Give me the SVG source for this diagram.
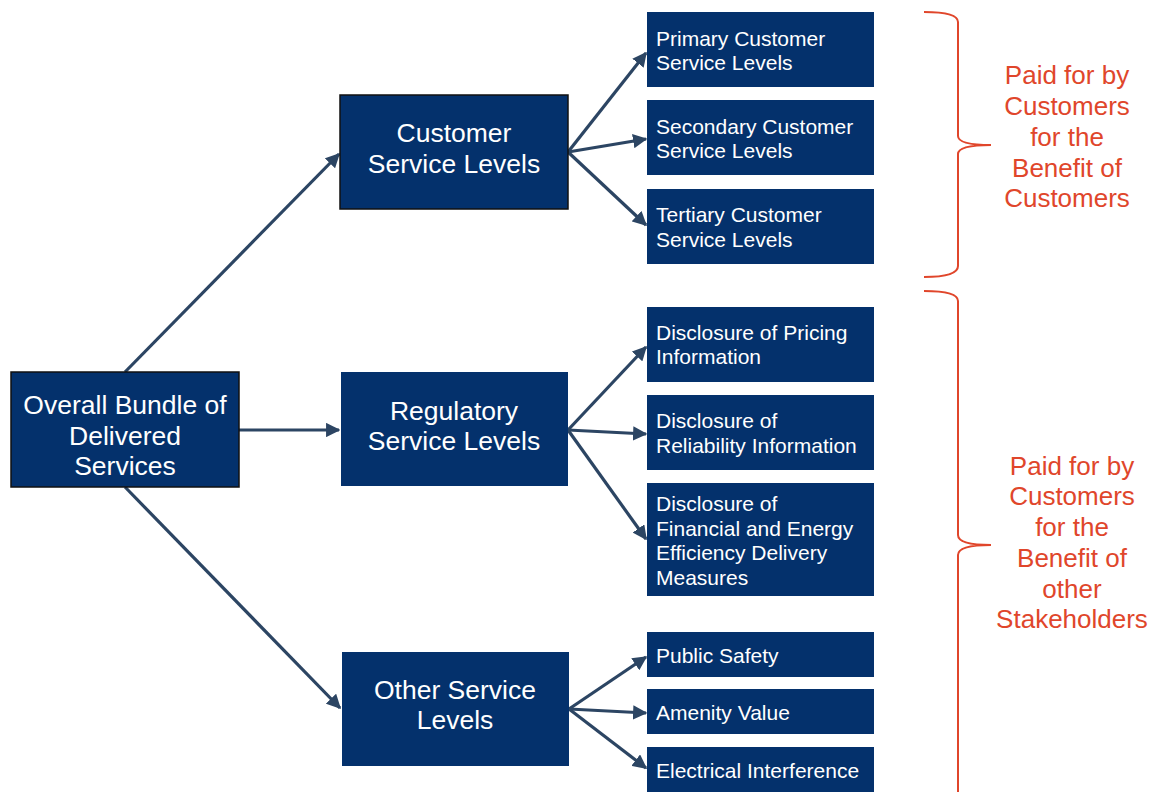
<svg xmlns="http://www.w3.org/2000/svg" width="1160" height="792" viewBox="0 0 1160 792">
  <style>
    .box { fill: #04316c; }
    .main { stroke: #111; stroke-width: 1.5; }
    .big { font-family: "Liberation Sans", Arial, sans-serif; font-size: 26.5px; fill: #fff; text-anchor: middle; }
    .small { font-family: "Liberation Sans", Arial, sans-serif; font-size: 21px; fill: #fff; }
    .note { font-family: "Liberation Sans", Arial, sans-serif; font-size: 26px; fill: #e0462b; text-anchor: middle; }
    .conn line { stroke: #2c4563; stroke-width: 3.2; marker-end: url(#arrow); }
    .brace { fill: none; stroke: #e0462b; stroke-width: 2; }
  </style>
  <defs>
    <marker id="arrow" viewBox="0 0 10 10" refX="9" refY="5" markerWidth="4.5" markerHeight="4.5" orient="auto" markerUnits="strokeWidth">
      <path d="M0,0 L10,5 L0,10 z" fill="#2c4563"/>
    </marker>
  </defs>
  <rect width="1160" height="792" fill="#fff"/>

  <!-- connectors -->
  <g id="connectors" class="conn">
    <line x1="125" y1="372" x2="339" y2="154"/>
    <line x1="239" y1="430" x2="339" y2="430"/>
    <line x1="125" y1="487" x2="340" y2="708"/>
    <line x1="568" y1="152" x2="646" y2="53"/>
    <line x1="568" y1="152" x2="646" y2="139"/>
    <line x1="568" y1="152" x2="646" y2="225"/>
    <line x1="568" y1="430" x2="646" y2="347"/>
    <line x1="568" y1="430" x2="646" y2="434"/>
    <line x1="568" y1="430" x2="646" y2="539"/>
    <line x1="569" y1="709" x2="646" y2="657"/>
    <line x1="569" y1="709" x2="646" y2="713"/>
    <line x1="569" y1="709" x2="646" y2="768"/>
  </g>

  <!-- root -->
  <g id="overall">
    <rect class="box main" x="11" y="372" width="228" height="115"/>
    <text class="big" x="125" y="414">Overall Bundle of</text>
    <text class="big" x="125" y="445">Delivered</text>
    <text class="big" x="125" y="475">Services</text>
  </g>

  <!-- middle tier -->
  <g id="customer">
    <rect class="box main" x="340" y="95" width="228" height="114"/>
    <text class="big" x="454" y="142">Customer</text>
    <text class="big" x="454" y="173">Service Levels</text>
  </g>
  <g id="regulatory">
    <rect class="box" x="341" y="372" width="227" height="114"/>
    <text class="big" x="454" y="420">Regulatory</text>
    <text class="big" x="454" y="450">Service Levels</text>
  </g>
  <g id="other">
    <rect class="box" x="342" y="652" width="227" height="114"/>
    <text class="big" x="455" y="699">Other Service</text>
    <text class="big" x="455" y="729">Levels</text>
  </g>

  <!-- leaves -->
  <g id="primary">
    <rect class="box" x="647" y="12" width="227" height="75"/>
    <text class="small" x="656" y="46">Primary Customer</text>
    <text class="small" x="656" y="70">Service Levels</text>
  </g>
  <g id="secondary">
    <rect class="box" x="647" y="100" width="227" height="75"/>
    <text class="small" x="656" y="134">Secondary Customer</text>
    <text class="small" x="656" y="158">Service Levels</text>
  </g>
  <g id="tertiary">
    <rect class="box" x="647" y="189" width="227" height="75"/>
    <text class="small" x="656" y="222">Tertiary Customer</text>
    <text class="small" x="656" y="247">Service Levels</text>
  </g>
  <g id="pricing">
    <rect class="box" x="647" y="307" width="227" height="75"/>
    <text class="small" x="656" y="340">Disclosure of Pricing</text>
    <text class="small" x="656" y="364">Information</text>
  </g>
  <g id="reliability">
    <rect class="box" x="647" y="395" width="227" height="75"/>
    <text class="small" x="656" y="428">Disclosure of</text>
    <text class="small" x="656" y="453">Reliability Information</text>
  </g>
  <g id="financial">
    <rect class="box" x="647" y="483" width="227" height="113"/>
    <text class="small" x="656" y="511">Disclosure of</text>
    <text class="small" x="656" y="536">Financial and Energy</text>
    <text class="small" x="656" y="560">Efficiency Delivery</text>
    <text class="small" x="656" y="585">Measures</text>
  </g>
  <g id="safety">
    <rect class="box" x="647" y="632" width="227" height="45"/>
    <text class="small" x="656" y="663">Public Safety</text>
  </g>
  <g id="amenity">
    <rect class="box" x="647" y="689" width="227" height="45"/>
    <text class="small" x="656" y="720">Amenity Value</text>
  </g>
  <g id="interference">
    <rect class="box" x="647" y="747" width="227" height="45"/>
    <text class="small" x="656" y="778">Electrical Interference</text>
  </g>

  <!-- braces and notes -->
  <g id="brace-customers">
    <path class="brace" d="M924,12 Q958,12 958,22 L958,136 Q958,145 991,145 Q958,145 958,154 L958,266 Q958,277 924,277"/>
    <text class="note" x="1067" y="84">Paid for by</text>
    <text class="note" x="1067" y="115">Customers</text>
    <text class="note" x="1067" y="146">for the</text>
    <text class="note" x="1067" y="177">Benefit of</text>
    <text class="note" x="1067" y="207">Customers</text>
  </g>
  <g id="brace-stakeholders">
    <path class="brace" d="M924,291 Q958,291 958,301 L958,535 Q958,545 991,545 Q958,545 958,555 L958,800"/>
    <text class="note" x="1072" y="475">Paid for by</text>
    <text class="note" x="1072" y="505">Customers</text>
    <text class="note" x="1072" y="536">for the</text>
    <text class="note" x="1072" y="567">Benefit of</text>
    <text class="note" x="1072" y="598">other</text>
    <text class="note" x="1072" y="628">Stakeholders</text>
  </g>
</svg>
